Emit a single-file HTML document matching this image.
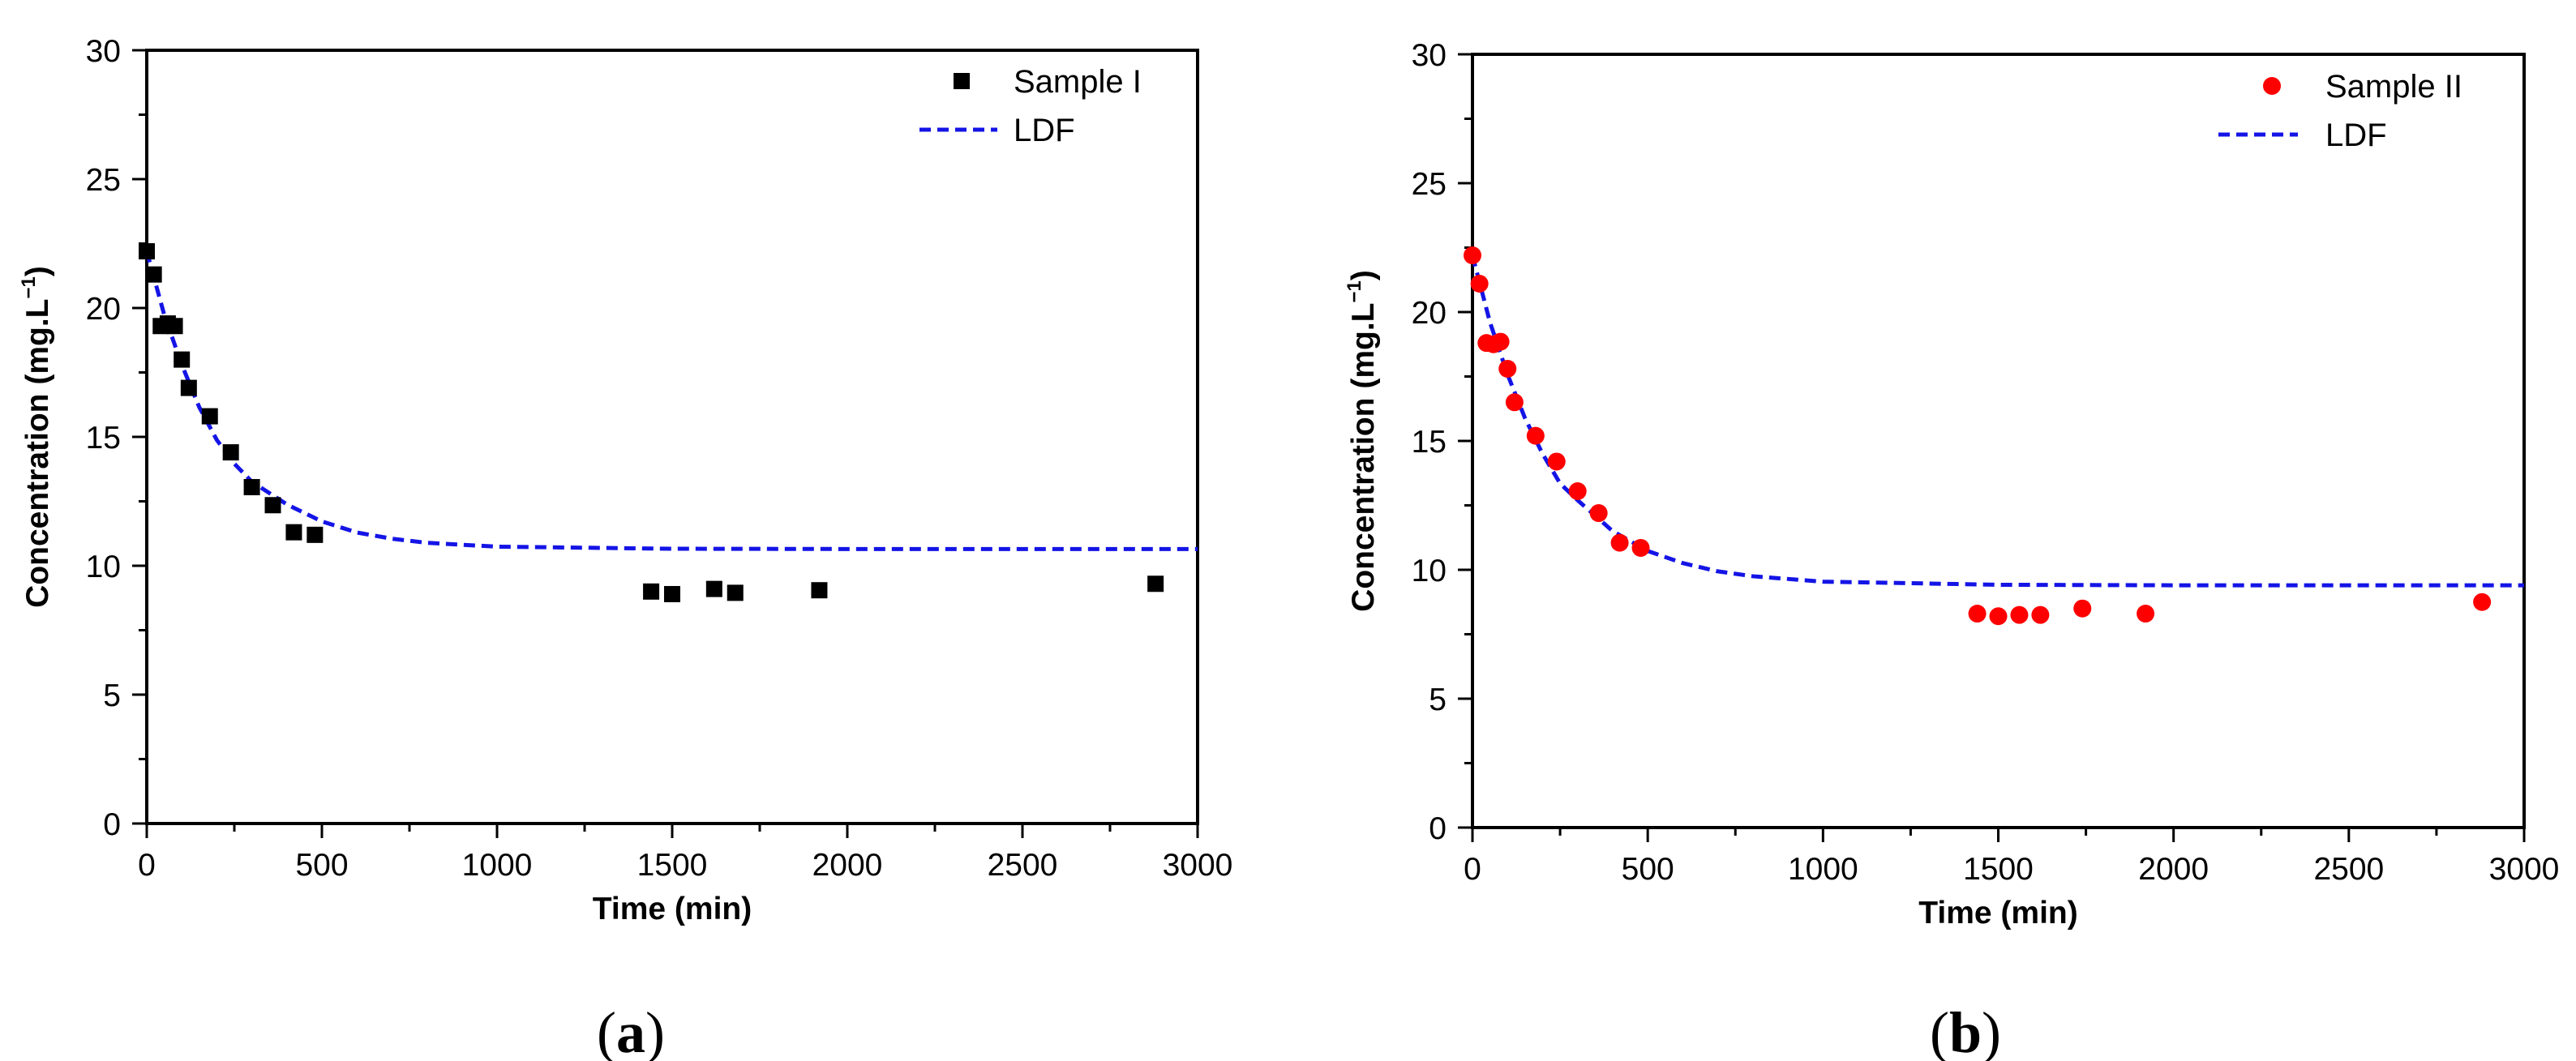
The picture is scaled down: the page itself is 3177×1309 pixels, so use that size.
<!DOCTYPE html>
<html><head><meta charset="utf-8"><style>
html,body{margin:0;padding:0;background:#fff;}
svg{display:block;font-family:"Liberation Sans",Arial,sans-serif;}
</style></head><body>
<svg id="chart" width="3177" height="1309" viewBox="0 0 3177 1309" xmlns="http://www.w3.org/2000/svg"></svg>
<script>
// ---- data ----
const xTicks = [0, 500, 1000, 1500, 2000, 2500, 3000];
const yTicks = [0, 5, 10, 15, 20, 25, 30];
const timeA = [0,20,40,60,80,100,120,180,240,300,360,420,480,1440,1500,1620,1680,1920,2880];
const concA = [22.2,21.3,19.3,19.4,19.3,18.0,16.9,15.8,14.4,13.05,12.35,11.3,11.2,9.0,8.9,9.1,8.95,9.05,9.3];
const ldfTimeA = [0,50,100,150,200,250,300,400,500,600,700,800,1000,1500,2000,2500,3000];
const ldfA = [22.2,19.73,17.8,16.15,14.88,13.96,13.26,12.38,11.72,11.29,11.05,10.89,10.74,10.66,10.65,10.65,10.65];
const timeB = [0,20,40,60,80,100,120,180,240,300,360,420,480,1440,1500,1560,1620,1740,1920,2880];
const concB = [22.2,21.1,18.8,18.75,18.85,17.8,16.5,15.2,14.2,13.05,12.2,11.05,10.85,8.3,8.2,8.25,8.25,8.5,8.3,8.75];
const ldfTimeB = [0,50,100,150,200,250,300,400,500,600,700,800,1000,1500,2000,2500,3000];
const ldfB = [22.2,19.6,17.58,15.88,14.5,13.35,12.7,11.5,10.73,10.26,9.94,9.75,9.54,9.42,9.4,9.4,9.4];

const NS = "http://www.w3.org/2000/svg";
const svg = document.getElementById('chart');
function mk(tag, attrs, parent){
  const e = document.createElementNS(NS, tag);
  for (const k in attrs) e.setAttribute(k, attrs[k]);
  (parent||svg).appendChild(e);
  return e;
}

function panel(p){
  const g = mk('g', {});
  
  
  const X = v => p.x0 + (v/3000)*(p.x1-p.x0);
  const Y = v => p.y1 - (v/30)*(p.y1-p.y0);
  const fr = mk('rect', {x:p.x0, y:p.y0, width:p.x1-p.x0, height:p.y1-p.y0, fill:'none', stroke:'#000', 'stroke-width':4}, g);
  
  
  for (let v=0; v<=3000; v+=250){
    const major = v%500===0;
    const t = mk('line', {x1:X(v), x2:X(v), y1:p.y1, y2:p.y1+(major?18:10), stroke:'#000','stroke-width':3}, g);
    
    
  }
  xTicks.forEach(v=>{
    const t = mk('text', {x:X(v), y:p.y1+64, 'text-anchor':'middle', 'font-size':39, fill:'#000'}, g);
    t.textContent = v;
    
    
  });
  for (let v=0; v<=30; v+=2.5){
    const major = v%5===0;
    const t = mk('line', {x1:p.x0-(major?18:10), x2:p.x0, y1:Y(v), y2:Y(v), stroke:'#000','stroke-width':3}, g);
    
    
  }
  yTicks.forEach(v=>{
    const t = mk('text', {x:p.x0-32, y:Y(v)+14, 'text-anchor':'end', 'font-size':39, fill:'#000'}, g);
    t.textContent = v;
    
    
  });
  const xt = mk('text', {x:(p.x0+p.x1)/2, y:p.y1+118, 'text-anchor':'middle', 'font-size':39, 'font-weight':'bold', fill:'#000'}, g);
  xt.textContent = 'Time (min)';
  
  
  const yt = mk('text', {x:0, y:0, 'text-anchor':'middle', 'font-size':39, 'font-weight':'bold', fill:'#000', transform:`translate(${p.x0-122},${(p.y0+p.y1)/2}) rotate(-90)`}, g);
  yt.innerHTML = 'Concentration (mg.L<tspan dy="-16" font-size="24">−1</tspan><tspan dy="16">)</tspan>';
  
  
  const clip = mk('clipPath', {id:'clip'+p.name}, g);
  mk('rect', {x:p.x0, y:p.y0, width:p.x1-p.x0, height:p.y1-p.y0}, clip);
  const pts = p.ldfT.map((t,i)=>X(t)+','+Y(p.ldf[i])).join(' ');
  const ln = mk('polyline', {points:pts, fill:'none', stroke:'#1414e6', 'stroke-width':5, 'stroke-dasharray':'14 8', 'clip-path':`url(#clip${p.name})`}, g);
  
  
  p.t.forEach((t,i)=>{
    let m;
    if (p.square) m = mk('rect', {x:X(t)-10, y:Y(p.c[i])-10, width:20, height:20, fill:'#000'}, g);
    else m = mk('circle', {cx:X(t), cy:Y(p.c[i]), r:11, fill:'#f00'}, g);
    
    
  });
  const lg = mk('g', {}, g);
  
  
  let mm;
  if (p.square) mm = mk('rect', {x:p.lgMx-10, y:p.lgY1-10, width:20, height:20, fill:'#000'}, lg);
  else mm = mk('circle', {cx:p.lgMx, cy:p.lgY1, r:11, fill:'#f00'}, lg);
  
  
  const l1 = mk('text', {x:p.lgTx, y:p.lgY1+14, 'font-size':40, fill:'#000'}, lg);
  l1.textContent = p.label;
  
  
  const ll = mk('line', {x1:p.lgL0, x2:p.lgL1, y1:p.lgY2, y2:p.lgY2, stroke:'#1414e6','stroke-width':5,'stroke-dasharray':'14 8'}, lg);
  
  
  const l2 = mk('text', {x:p.lgTx, y:p.lgY2+14, 'font-size':40, fill:'#000'}, lg);
  l2.textContent = 'LDF';
  
  
  const cap = mk('text', {x:p.capX, y:1298, 'text-anchor':'middle', 'font-size':72, 'font-family':'"Liberation Serif",serif', fill:'#000'}, g);
  cap.innerHTML = '(<tspan font-weight="bold">'+p.cap+'</tspan>)';
  
  
}

panel({name:'panel-a', x0:181, x1:1477, y0:62, y1:1016, t:timeA, c:concA, ldfT:ldfTimeA, ldf:ldfA, square:true,
  label:'Sample I', lgMx:1186, lgTx:1250, lgY1:100, lgY2:160, lgL0:1134, lgL1:1230, cap:'a', capX:778});
panel({name:'panel-b', x0:1816, x1:3113, y0:67, y1:1021, t:timeB, c:concB, ldfT:ldfTimeB, ldf:ldfB, square:false,
  label:'Sample II', lgMx:2802, lgTx:2868, lgY1:106, lgY2:166, lgL0:2736, lgL1:2834, cap:'b', capX:2424});
</script>
</body></html>
